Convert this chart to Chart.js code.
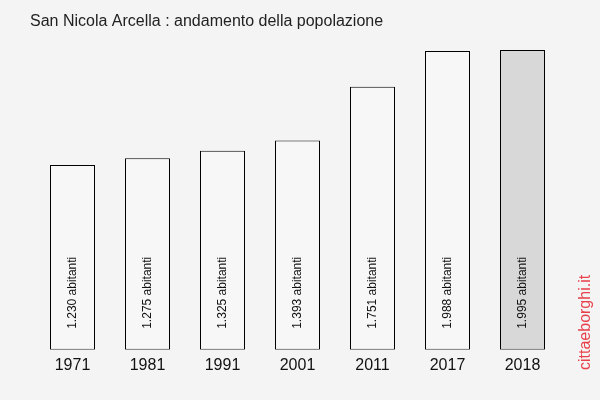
<!DOCTYPE html>
<html>
<head>
<meta charset="utf-8">
<script src="https://cdn.jsdelivr.net/npm/chart.js@4"></script>
<style>
  html, body { margin: 0; padding: 0; background: #f4f4f4; }
  #wrap { width: 600px; height: 400px; }
</style>
</head>
<body>
<div id="wrap"><canvas id="chart" width="600" height="400"></canvas></div>
<script>
// --- chart data ---
const years = ['1971', '1981', '1991', '2001', '2011', '2017', '2018'];
const population = [1230, 1275, 1325, 1393, 1751, 1988, 1995];
const barColors = ['#f7f7f7', '#f7f7f7', '#f7f7f7', '#f7f7f7', '#f7f7f7', '#f7f7f7', '#d8d8d8'];
const titleText = 'San Nicola Arcella : andamento della popolazione';
const watermark = 'cittaeborghi.it';

// draws title, watermark and the value labels inside the bars
const overlayPlugin = {
    id: 'overlay',
    afterDatasetsDraw(chart) {
        const ctx = chart.ctx;
        ctx.save();
        ctx.fillStyle = '#222';
        ctx.font = '16px "Liberation Sans", Arial, sans-serif';
        ctx.textBaseline = 'middle';
        ctx.textAlign = 'left';
        ctx.fillText(titleText, 30, 22);

        const meta = chart.getDatasetMeta(0);
        ctx.font = '12px "Liberation Sans", Arial, sans-serif';
        ctx.fillStyle = '#111';
        meta.data.forEach((bar, i) => {
            const label = population[i].toLocaleString('en-US').replace(',', '.') + ' abitanti';
            ctx.save();
            ctx.translate(bar.x, bar.base - 21);
            ctx.rotate(-Math.PI / 2);
            ctx.textAlign = 'left';
            ctx.textBaseline = 'middle';
            ctx.fillText(label, 0, 0);
            ctx.restore();
        });

        ctx.save();
        ctx.translate(586, 370);
        ctx.rotate(-Math.PI / 2);
        ctx.font = '16px "Liberation Sans", Arial, sans-serif';
        ctx.fillStyle = '#e8414b';
        ctx.textAlign = 'left';
        ctx.textBaseline = 'middle';
        ctx.fillText(watermark, 0, 0);
        ctx.restore();
        ctx.restore();
    }
};

new Chart(document.getElementById('chart'), {
    type: 'bar',
    data: {
        labels: years,
        datasets: [{
            data: population,
            backgroundColor: barColors,
            borderColor: '#000',
            borderWidth: 1,
            borderSkipped: false,
            barPercentage: 0.6,
            categoryPercentage: 1.0
        }]
    },
    options: {
        responsive: false,
        animation: false,
        layout: { padding: { left: 35, right: 40, top: 50, bottom: 19 } },
        plugins: { legend: { display: false }, tooltip: { enabled: false } },
        scales: {
            x: {
                grid: { display: false, drawTicks: false },
                border: { display: false },
                ticks: { color: '#111', font: { family: '"Liberation Sans", Arial, sans-serif', size: 16 }, padding: 6 }
            },
            y: { display: false, min: 0, max: 1995 }
        }
    },
    plugins: [overlayPlugin]
});
</script>
</body>
</html>
